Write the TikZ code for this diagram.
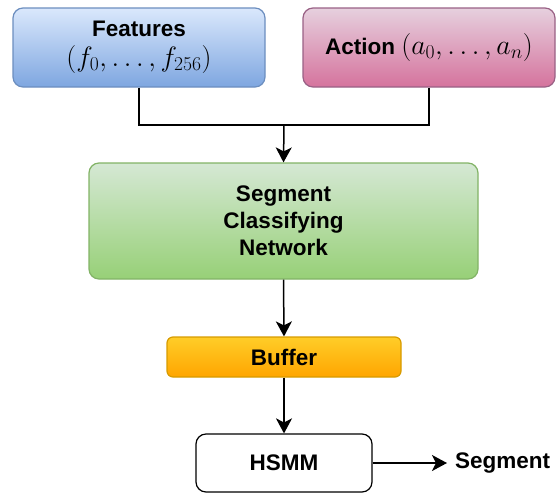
\RequirePackage{fix-cm}
\documentclass[tikz,border=0pt]{standalone}
\usepackage{fontspec}
\setmainfont{Liberation Sans}
\usetikzlibrary{arrows.meta}
\definecolor{bluetop}{HTML}{DAE8FC}\definecolor{bluebot}{HTML}{7EA6E0}\definecolor{blueline}{HTML}{6C8EBF}
\definecolor{pinktop}{HTML}{E6D0DE}\definecolor{pinkbot}{HTML}{D5739D}\definecolor{pinkline}{HTML}{996185}
\definecolor{greentop}{HTML}{D5E8D4}\definecolor{greenbot}{HTML}{97D077}\definecolor{greenline}{HTML}{82B366}
\definecolor{orangetop}{HTML}{FFCD28}\definecolor{orangebot}{HTML}{FFA500}\definecolor{orangeline}{HTML}{D79B00}
\newcommand{\bigmath}[1]{{\fontsize{28}{30}\selectfont$#1$}}
\tikzset{
  box/.style={draw, line width=1.2pt, rounded corners=10pt, align=center, inner sep=0pt,
    font=\fontsize{22.5}{27}\selectfont\bfseries},
  conn/.style={line width=1.5pt},
  arr/.style={line width=1.5pt, -{Stealth[length=15pt,width=16pt,inset=4pt]}},
}
\begin{document}
\begin{tikzpicture}[x=1pt,y=-1pt]
\useasboundingbox (0,0) rectangle (556,493);
\node[box, draw=blueline, top color=bluetop, bottom color=bluebot, minimum width=252pt, minimum height=79pt] (feat) at (139,47.5) {Features\\[3pt]\bigmath{(f_0,\ldots,f_{256})}};
\node[box, draw=pinkline, top color=pinktop, bottom color=pinkbot, minimum width=252pt, minimum height=79pt] (act) at (429,47.5) {Action \bigmath{(a_0,\ldots,a_n)}};
\node[box, draw=greenline, top color=greentop, bottom color=greenbot, minimum width=389pt, minimum height=116pt] (scn) at (283.5,221) {Segment\\Classifying\\Network};
\node[box, draw=orangeline, top color=orangetop, bottom color=orangebot, rounded corners=6pt, minimum width=234pt, minimum height=40pt] (buf) at (284,357) {Buffer};
\node[box, draw=black, fill=white, minimum width=176pt, minimum height=58pt] (hsmm) at (284,463) {HSMM};
\node[anchor=west, inner sep=0pt, font=\fontsize{22.5}{27}\selectfont\bfseries] (seg) at (455,463) {Segment};
\coordinate (j) at (284,125);
\draw[conn] (feat.south) |- (j);
\draw[conn] (act.south) |- (j);
\draw[arr] (j) -- (scn.north);
\draw[arr] (scn.south) -- (buf.north);
\draw[arr] (buf.south) -- (hsmm.north);
\draw[arr, shorten >=8pt] (hsmm.east) -- (seg.west);
\end{tikzpicture}
\end{document}
